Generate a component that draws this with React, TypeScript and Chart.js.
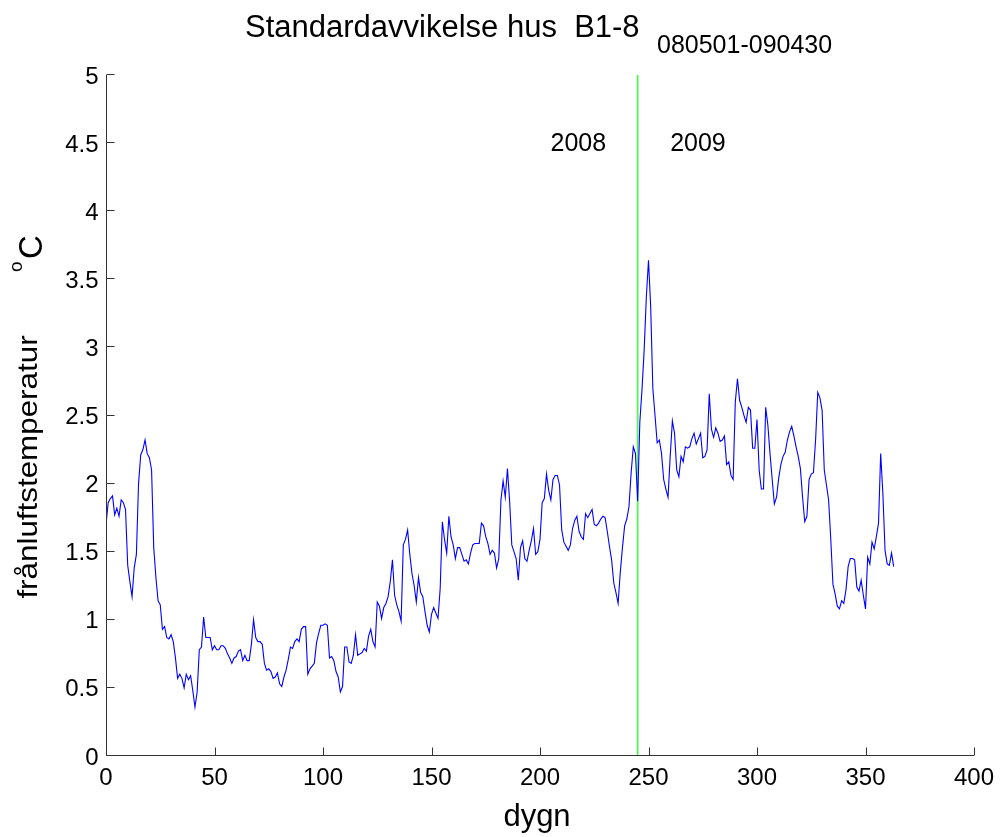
import React, { useEffect, useRef } from "react";
import { Chart, registerables } from "chart.js";

Chart.register(...registerables);

// Daily standard deviation of exhaust air temperature (°C), day 0 = 2008-05-01
const stdValues: number[] = [
  1.70, 1.86, 1.89, 1.91, 1.77, 1.82, 1.76, 1.88, 1.86, 1.81,
  1.40, 1.28, 1.17, 1.38, 1.48, 2.00, 2.21, 2.25, 2.32, 2.22,
  2.19, 2.10, 1.53, 1.31, 1.14, 1.11, 0.93, 0.95, 0.87, 0.86,
  0.89, 0.84, 0.72, 0.57, 0.60, 0.57, 0.50, 0.60, 0.56, 0.59,
  0.48, 0.36, 0.47, 0.78, 0.80, 1.02, 0.87, 0.87, 0.87, 0.78,
  0.81, 0.78, 0.78, 0.81, 0.81, 0.79, 0.75, 0.72, 0.68, 0.72,
  0.73, 0.77, 0.78, 0.70, 0.74, 0.70, 0.70, 0.82, 1.00, 0.87,
  0.84, 0.84, 0.82, 0.68, 0.63, 0.64, 0.62, 0.57, 0.58, 0.61,
  0.53, 0.51, 0.58, 0.63, 0.71, 0.80, 0.79, 0.84, 0.86, 0.84,
  0.93, 0.95, 0.95, 0.60, 0.64, 0.66, 0.68, 0.83, 0.90, 0.96,
  0.96, 0.97, 0.96, 0.72, 0.73, 0.70, 0.62, 0.58, 0.47, 0.51,
  0.80, 0.80, 0.69, 0.68, 0.74, 0.89, 0.74, 0.75, 0.76, 0.79,
  0.77, 0.88, 0.93, 0.84, 0.80, 1.13, 1.10, 1.01, 1.09, 1.12,
  1.17, 1.28, 1.44, 1.18, 1.11, 1.06, 0.99, 1.55, 1.59, 1.66,
  1.48, 1.34, 1.25, 1.13, 1.31, 1.20, 1.17, 1.06, 0.96, 0.91,
  1.04, 1.09, 1.05, 1.01, 1.23, 1.72, 1.59, 1.49, 1.76, 1.61,
  1.55, 1.45, 1.53, 1.53, 1.48, 1.43, 1.44, 1.41, 1.49, 1.55,
  1.56, 1.56, 1.56, 1.71, 1.69, 1.61, 1.56, 1.48, 1.51, 1.49,
  1.38, 1.45, 1.88, 2.02, 1.90, 2.11, 1.87, 1.55, 1.50, 1.45,
  1.29, 1.53, 1.58, 1.45, 1.43, 1.51, 1.58, 1.67, 1.48, 1.50,
  1.59, 1.86, 1.89, 2.07, 1.95, 1.88, 2.03, 2.06, 2.06, 1.99,
  1.66, 1.57, 1.54, 1.51, 1.55, 1.67, 1.73, 1.76, 1.65, 1.61,
  1.59, 1.78, 1.75, 1.78, 1.81, 1.70, 1.69, 1.71, 1.74, 1.76,
  1.75, 1.65, 1.54, 1.44, 1.27, 1.20, 1.12, 1.35, 1.53, 1.69,
  1.74, 1.83, 2.08, 2.27, 2.22, 1.87, 2.45, 2.69, 2.98, 3.37,
  3.64, 3.30, 2.70, 2.50, 2.30, 2.32, 2.22, 2.03, 1.96, 1.90,
  2.20, 2.46, 2.37, 2.10, 2.05, 2.20, 2.16, 2.27, 2.26, 2.27,
  2.33, 2.37, 2.29, 2.33, 2.37, 2.19, 2.20, 2.25, 2.66, 2.40,
  2.34, 2.41, 2.37, 2.31, 2.32, 2.35, 2.14, 2.16, 2.06, 2.03,
  2.60, 2.77, 2.61, 2.56, 2.50, 2.45, 2.56, 2.54, 2.26, 2.26,
  2.47, 2.10, 1.96, 1.96, 2.56, 2.43, 2.22, 2.03, 1.85, 1.90,
  2.04, 2.14, 2.20, 2.23, 2.32, 2.38, 2.42, 2.35, 2.27, 2.20,
  2.11, 1.90, 1.72, 1.76, 2.03, 2.07, 2.08, 2.32, 2.67, 2.63,
  2.54, 2.10, 1.99, 1.88, 1.59, 1.26, 1.19, 1.10, 1.08, 1.14,
  1.12, 1.22, 1.39, 1.45, 1.45, 1.44, 1.24, 1.21, 1.29, 1.18,
  1.08, 1.46, 1.41, 1.57, 1.52, 1.61, 1.71, 2.22, 1.93, 1.51,
  1.41, 1.40, 1.49, 1.39,
];

const days: number[] = stdValues.map((_, i) => i);

const yearBoundaryDay = 245;
const yearLabels: string[] = ["2008", "2009"];
const xTickValues: number[] = [0, 50, 100, 150, 200, 250, 300, 350, 400];
const yTickValues: number[] = [0, 0.5, 1, 1.5, 2, 2.5, 3, 3.5, 4, 4.5, 5];
const yTickLabels: string[] = ["0", "0.5", "1", "1.5", "2", "2.5", "3", "3.5", "4", "4.5", "5"];

const titleText = "Standardavvikelse hus  B1-8";
const subtitleText = "080501-090430";
const xLabelText = "dygn";
const yLabelText = "frånluftstemperatur";

const FONT = '"Liberation Sans", Arial, Helvetica, sans-serif';

const matlabPlugin = {
  id: "matlabDecor",
  afterDraw(chart: any) {
    const ctx: CanvasRenderingContext2D = chart.ctx;
    const xs = chart.scales.x;
    const ys = chart.scales.y;
    const area = chart.chartArea;
    const L = Math.round(area.left) + 0.5;
    const B = Math.round(area.bottom) - 0.5;
    const T = Math.round(area.top);
    const R = Math.round(area.right);

    ctx.save();
    // axes lines (box off)
    ctx.strokeStyle = "#333333";
    ctx.lineWidth = 1;
    ctx.beginPath();
    ctx.moveTo(L, T);
    ctx.lineTo(L, B);
    ctx.lineTo(R, B);
    ctx.stroke();

    // ticks (inward)
    ctx.beginPath();
    xTickValues.forEach((v) => {
      const px = Math.round(xs.getPixelForValue(v)) + 0.5;
      ctx.moveTo(px, B);
      ctx.lineTo(px, B - 8);
    });
    yTickValues.forEach((v) => {
      const py = Math.round(ys.getPixelForValue(v)) - 0.5;
      ctx.moveTo(L, py);
      ctx.lineTo(L + 8, py);
    });
    ctx.stroke();

    // tick labels
    ctx.fillStyle = "#000";
    ctx.font = `24px ${FONT}`;
    ctx.textBaseline = "alphabetic";
    ctx.textAlign = "center";
    xTickValues.forEach((v) => {
      ctx.fillText(String(v), xs.getPixelForValue(v), B + 29);
    });
    ctx.textAlign = "right";
    yTickValues.forEach((v, i) => {
      ctx.fillText(yTickLabels[i], L - 8, ys.getPixelForValue(v) + 8.5);
    });

    const drawText = (
      text: string,
      x: number,
      y: number,
      size: number,
      align: CanvasTextAlign
    ) => {
      ctx.save();
      ctx.font = `${size}px ${FONT}`;
      ctx.textAlign = align;
      ctx.textBaseline = "alphabetic";
      ctx.fillText(text, x, y);
      ctx.restore();
    };

    // title and subtitle
    drawText(titleText, 245, 37, 31, "left");
    drawText(subtitleText, 657, 53, 25, "left");

    // year labels around boundary
    const xLine = xs.getPixelForValue(yearBoundaryDay);
    const yYear = ys.getPixelForValue(4.5) + 8;
    drawText(yearLabels[0], xLine - 31.5, yYear, 25, "right");
    drawText(yearLabels[1], xLine + 32.5, yYear, 25, "left");

    // x label
    drawText(xLabelText, (area.left + area.right) / 2 - 3, 826, 31, "center");

    // y label (rotated)
    ctx.save();
    ctx.translate(36.5, 467);
    ctx.rotate(-Math.PI / 2);
    ctx.scale(1.12, 1);
    ctx.font = `28px ${FONT}`;
    ctx.textAlign = "center";
    ctx.textBaseline = "alphabetic";
    ctx.fillText(yLabelText, 0, 0);
    ctx.restore();

    // unit label  °C  (superscript o)
    ctx.save();
    ctx.translate(42, 272);
    ctx.rotate(-Math.PI / 2);
    ctx.textAlign = "left";
    ctx.textBaseline = "alphabetic";
    ctx.font = `19px ${FONT}`;
    ctx.fillText("o", 0, -20);
    ctx.font = `33px ${FONT}`;
    ctx.fillText("C", 13, 0);
    ctx.restore();

    ctx.restore();
  },
};

export default function App() {
  const canvasRef = useRef<HTMLCanvasElement | null>(null);

  useEffect(() => {
    document.body.style.margin = "0";
    const canvas = canvasRef.current;
    if (!canvas) return;
    const chart = new Chart(canvas, {
      type: "line",
      data: {
        datasets: [
          {
            label: "std",
            data: days.map((d, i) => ({ x: d, y: stdValues[i] })),
            borderColor: "#0000ff",
            borderWidth: 1.1,
            pointRadius: 0,
            tension: 0,
            fill: false,
          },
          {
            label: "year",
            data: [
              { x: yearBoundaryDay, y: 0 },
              { x: yearBoundaryDay, y: 5 },
            ],
            borderColor: "#55f555",
            borderWidth: 1.8,
            pointRadius: 0,
            fill: false,
          },
        ],
      },
      options: {
        responsive: false,
        animation: false,
        devicePixelRatio: 1,
        layout: { padding: { left: 106, right: 26, top: 75, bottom: 81 } },
        plugins: {
          legend: { display: false },
          tooltip: { enabled: false },
          title: { display: false },
        },
        scales: {
          x: { type: "linear", min: 0, max: 400, display: false },
          y: { type: "linear", min: 0, max: 5, display: false },
        },
      },
      plugins: [matlabPlugin],
    });
    return () => chart.destroy();
  }, []);

  return (
    <div style={{ position: "fixed", left: 0, top: 0, width: 1000, height: 837, background: "#fff" }}>
      <canvas ref={canvasRef} width={1000} height={837} style={{ display: "block" }} />
    </div>
  );
}
